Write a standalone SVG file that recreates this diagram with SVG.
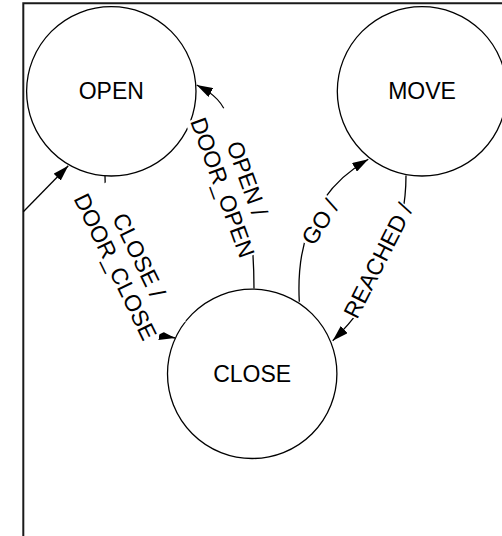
<svg xmlns="http://www.w3.org/2000/svg" width="502" height="536" viewBox="0 0 502 536">
  <style>
    .state { fill: #ffffff; stroke: #000000; stroke-width: 1.3; }
    .name { font-family: "Liberation Sans", Arial, sans-serif; font-size: 23px; fill: #000000; text-anchor: middle; }
    .edge { fill: none; stroke: #000000; stroke-width: 1.3; marker-end: url(#arrow); }
    .bg { fill: #ffffff; stroke: none; }
    .lbl { font-family: "Liberation Sans", Arial, sans-serif; font-size: 23px; fill: #000000; text-anchor: middle; }
    .frame { fill: none; stroke: #1a1a1a; stroke-width: 2; }
  </style>
  <defs>
    <marker id="arrow" viewBox="0 0 16 10" refX="16" refY="5" markerWidth="16" markerHeight="10" markerUnits="userSpaceOnUse" orient="auto">
      <path d="M0,0 L16,5 L0,10 z" fill="#000000"/>
    </marker>
  </defs>
  <rect x="0" y="0" width="502" height="536" fill="#ffffff"/>
  <path class="frame" d="M23.3,540 V3.3 H506"/>

  <g id="node-open">
    <circle class="state" cx="111.3" cy="91.3" r="84.7"/>
    <text class="name" x="111.3" y="98.5">OPEN</text>
  </g>
  <g id="node-move">
    <circle class="state" cx="422" cy="91.3" r="84.7"/>
    <text class="name" x="422" y="98.5">MOVE</text>
  </g>
  <g id="node-close">
    <circle class="state" cx="252.2" cy="373.8" r="84.7"/>
    <text class="name" x="252.2" y="381.7">CLOSE</text>
  </g>

  <g id="connectors">
    <path id="e-init" class="edge" d="M23.3,211.7 L68.3,165.7"/>
    <path id="e-open-close" class="edge" d="M105,176 C105,260 130,330 175,338"/>
    <path id="e-close-open" class="edge" d="M254,288.5 C254,220 240,150 226,113 C220,98 208,91 196.7,85"/>
    <path id="e-close-move" class="edge" d="M299.3,301.7 C296,240 315,190 368.3,159.3"/>
    <path id="e-move-close" class="edge" d="M406,175.5 C406,240 375,300 332.7,340.7"/>
  </g>

  <g id="edge-labels">
    <g transform="translate(127.3,261) rotate(64)">
      <rect class="bg" x="-80" y="-26" width="160" height="52"/>
      <text class="lbl" x="0" y="-4.8">CLOSE /</text>
      <text class="lbl" x="0" y="21.2">DOOR_CLOSE</text>
    </g>
    <g transform="translate(235,183) rotate(70)">
      <rect class="bg" x="-74" y="-26" width="148" height="52"/>
      <text class="lbl" x="0" y="-4.8">OPEN /</text>
      <text class="lbl" x="0" y="21.2">DOOR_OPEN</text>
    </g>
    <g transform="translate(320,222) rotate(-57)">
      <rect class="bg" x="-26" y="-13" width="52" height="26"/>
      <text class="lbl" x="0" y="8.2">GO /</text>
    </g>
    <g transform="translate(378,260.5) rotate(-63)">
      <rect class="bg" x="-62.5" y="-13" width="125" height="26"/>
      <text class="lbl" x="0" y="8.2">REACHED /</text>
    </g>
  </g>
</svg>
